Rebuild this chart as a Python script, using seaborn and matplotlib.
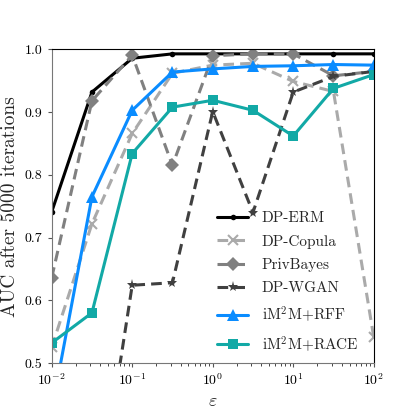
import numpy as np
import pandas as pd
import seaborn as sns
import matplotlib.pyplot as plt

# --- Data ---
epsilons = [0.01, 0.0316, 0.1, 0.316, 1.0, 3.16, 10.0, 31.6, 100.0]

methods = ["DP-ERM", "DP-Copula", "PrivBayes", "DP-WGAN", "iM$^2$M+RFF", "iM$^2$M+RACE"]

dp_erm = [0.741, 0.932, 0.986, 0.993, 0.993, 0.993, 0.993, 0.993, 0.993]
dp_copula = [0.525, 0.722, 0.866, 0.962, 0.975, 0.978, 0.949, 0.933, 0.541]
privbayes = [0.636, 0.918, 0.991, 0.815, 0.990, 0.993, 0.993, 0.958, 0.965]
dp_wgan = [0.15, 0.21, 0.624, 0.628, 0.901, 0.740, 0.932, 0.957, 0.965]
im2m_rff = [0.424, 0.765, 0.903, 0.964, 0.969, 0.973, 0.974, 0.976, 0.975]
im2m_race = [0.532, 0.580, 0.834, 0.908, 0.919, 0.903, 0.862, 0.938, 0.960]

values = [dp_erm, dp_copula, privbayes, dp_wgan, im2m_rff, im2m_race]

df = pd.concat(
    [pd.DataFrame({"epsilon": epsilons, "auc": v, "method": m}) for m, v in zip(methods, values)],
    ignore_index=True)

# --- Styling per method ---
colors = ["black", "#aaaaaa", "#808080", "#404040", "#0a8cff", "#12a9a6"]
linestyles = ["-", (0, (3.5, 2)), (0, (3.5, 2)), (0, (3.5, 2)), "-", "-"]
markers = ["o", "x", "D", "*", "^", "s"]
msizes = [4, 7, 7, 8, 8, 7.5]

# --- Graph data ---
sns.set_style("ticks")
plt.rcParams["font.family"] = "serif"
plt.rcParams["font.serif"] = ["cmr10"]
plt.rcParams["mathtext.fontset"] = "cm"
plt.rcParams["axes.formatter.use_mathtext"] = True

fig = plt.figure(figsize=(4.15, 4.15), dpi=100)
ax = fig.add_axes([0.1246, 0.1253, 0.776, 0.7555])

for m, c, ls, mk, ms in zip(methods, colors, linestyles, markers, msizes):
    sub = df[df["method"] == m]
    sns.lineplot(data=sub, x="epsilon", y="auc", ax=ax, color=c, linestyle=ls,
                 marker=mk, markersize=ms, markeredgewidth=1.5 if mk == "x" else 0,
                 markeredgecolor=c, linewidth=2.2, label=m)

ax.set_xscale("log")
ax.set_xlim(0.01, 100)
ax.set_ylim(0.5, 1.0)
ax.set_yticks([0.5, 0.6, 0.7, 0.8, 0.9, 1.0])
ax.set_yticklabels(["0.5", "0.6", "0.7", "0.8", "0.9", "1.0"])
ax.tick_params(labelsize=10, length=3, width=0.8, colors="#555555", labelcolor="black")
ax.tick_params(which="minor", length=2)

for side in ["left", "bottom"]:
    ax.spines[side].set_color("#777777")
for side in ["top", "right"]:
    ax.spines[side].set_visible(True)
    ax.spines[side].set_color("black")

ax.set_xlabel(r"$\varepsilon$", fontsize=13)
ax.set_ylabel("AUC after 5000 iterations", fontsize=14)

ax.legend(loc="lower right", bbox_to_anchor=(1.0, -0.019), frameon=False, fontsize=11,
          handlelength=2.0, borderaxespad=0.6, labelspacing=0.62, handletextpad=0.9)

plt.savefig("out.png", dpi=100)
